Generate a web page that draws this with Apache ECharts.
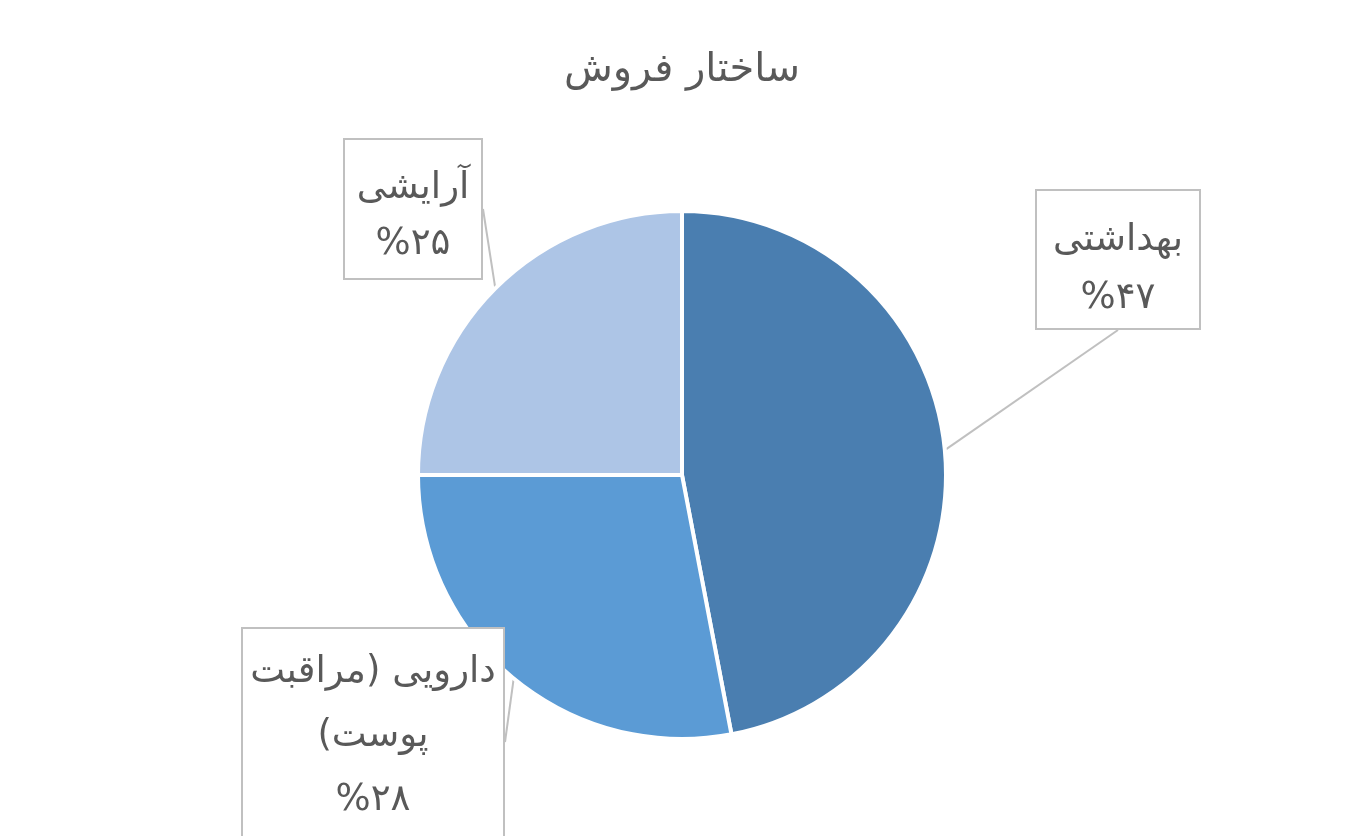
<!DOCTYPE html>
<html>
<head>
<meta charset="utf-8">
<script src="https://cdn.jsdelivr.net/npm/echarts@6/dist/echarts.min.js"></script>
<style>
html,body{margin:0;padding:0;background:#fff;}
#chart{width:1364px;height:836px;}
</style>
</head>
<body>
<div id="chart" dir="rtl"></div>
<script>
// ---- data ----
const chartTitle = 'ساختار فروش';
const categories = ['بهداشتی', 'دارویی (مراقبت پوست)', 'آرایشی'];
const shares = [47, 28, 25];
const sliceColors = ['#4a7eb0', '#5b9bd5', '#adc5e6'];

// ---- layout (label boxes: left, top, width, height, top padding, line height) ----
const labelBoxes = [
  { left: 1037, top: 191, w: 162, h: 141, pt: 20, lh: 58 },
  { left: 243, top: 629, w: 260, h: 230, pt: 11, lh: 64 },
  { left: 345, top: 140, w: 136, h: 142, pt: 20, lh: 56 }
];
const FONT = 'DejaVu Sans';

function toPersianDigits(n) {
  const d = '۰۱۲۳۴۵۶۷۸۹';
  return String(n).replace(/[0-9]/g, c => d[+c]);
}
function wrapWords(s, maxChars) {
  const words = s.split(' ');
  const lines = [];
  let cur = '';
  words.forEach(w => {
    const next = cur ? cur + ' ' + w : w;
    if (next.length > maxChars && cur) { lines.push(cur); cur = w; }
    else cur = next;
  });
  if (cur) lines.push(cur);
  return lines.join('\n');
}

const pieData = categories.map((name, i) => {
  const b = labelBoxes[i];
  return {
    name: name,
    value: shares[i],
    itemStyle: { color: sliceColors[i] },
    label: {
      width: b.w - 4,
      height: b.h - b.pt - 4,
      lineHeight: b.lh,
      padding: [b.pt, 2, 0, 2]
    }
  };
});

const chart = echarts.init(document.getElementById('chart'));
chart.setOption({
  backgroundColor: '#ffffff',
  animation: false,
  title: {
    text: chartTitle,
    left: 'center',
    top: 46,
    textStyle: { fontFamily: FONT, fontSize: 40, fontWeight: 'normal', color: '#595959' }
  },
  series: [{
    type: 'pie',
    center: [682, 475],
    radius: ['0%', 264],
    startAngle: 90,
    clockwise: true,
    data: pieData,
    itemStyle: { borderColor: '#ffffff', borderWidth: 4 },
    label: {
      show: true,
      position: 'outside',
      fontFamily: FONT,
      fontSize: 37,
      color: '#595959',
      backgroundColor: '#ffffff',
      borderColor: '#c0c0c0',
      borderWidth: 2,
      formatter: p => wrapWords(p.name, 14) + '\n%' + toPersianDigits(Math.round(p.percent))
    },
    labelLine: {
      show: true,
      length: 0,
      length2: 0,
      lineStyle: { color: '#c0c0c0', width: 2 }
    },
    labelLayout: function (params) {
      const b = labelBoxes[params.dataIndex];
      return { x: b.left + b.w / 2, y: b.top, align: 'center', verticalAlign: 'top' };
    }
  }]
});
</script>
</body>
</html>
